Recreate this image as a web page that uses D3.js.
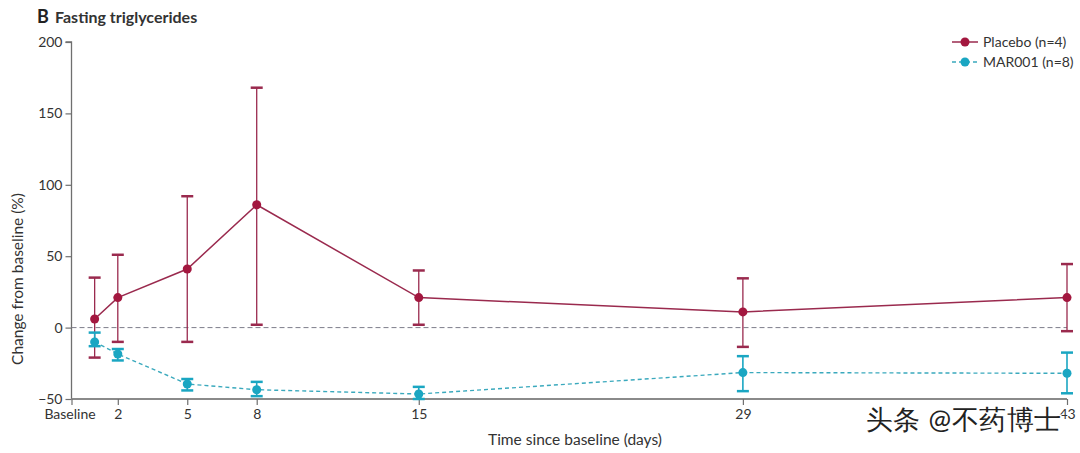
<!DOCTYPE html>
<html><head><meta charset="utf-8">
<script src="https://cdn.jsdelivr.net/npm/d3@7"></script>
<style>body{margin:0;background:#fff;} text{font-family:Lato, "Open Sans", sans-serif;}</style>
</head><body>
<svg id="c" width="1080" height="453"></svg>
<script>
const days = [1, 2, 5, 8, 15, 29, 43];
const xTickValues = [0, 2, 5, 8, 15, 29, 43];
const xTickLabels = ["Baseline", "2", "5", "8", "15", "29", "43"];
const yTickValues = [-50, 0, 50, 100, 150, 200];
const placeboMean = [6, 21, 41, 86, 21, 11, 21];
const placeboLow  = [-21, -10, -10, 2, 2, -13.5, -2.5];
const placeboHigh = [35, 51, 92, 168, 40, 34.5, 44.5];
const marMean = [-10, -18.5, -39.5, -43.5, -46.5, -31.5, -32];
const marLow  = [-13, -23, -44, -48, -50, -44.5, -46];
const marHigh = [-3.5, -15, -36, -38, -41.5, -20, -17.5];
const seriesNames = ["Placebo (n=4)", "MAR001 (n=8)"];

const svg = d3.select("#c");
const x = d3.scaleLinear().domain([0, 43]).range([71.5, 1067]);
const y = d3.scaleLinear().domain([-50, 200]).range([399, 42]);

const axisCol = "#6f6f6f";
const red = "#a3173f", redLine = "#9a2a4e";
const cyan = "#1aa6c2", cyanLine = "#3aa9bd";

// Title
svg.append("text").attr("x", 37).attr("y", 23).attr("font-size", 18).attr("font-weight", 700).attr("fill", "#222").text("B");
svg.append("text").attr("x", 55).attr("y", 23).attr("font-size", 16).attr("font-weight", 700).attr("fill", "#333").text("Fasting triglycerides");

// Y axis
const yAxis = d3.axisLeft(y).tickValues(yTickValues).tickSize(6).tickPadding(3).tickFormat(d => d < 0 ? "\u2212" + Math.abs(d) : d);
const gy = svg.append("g").attr("transform", `translate(${x(0)},0)`).call(yAxis);
gy.select(".domain").attr("stroke", axisCol).attr("stroke-width", 1.3).attr("d", `M-6,${y(200)}H0V${y(-50)}`);
gy.selectAll(".tick line").attr("stroke", axisCol).attr("stroke-width", 1.2);
gy.selectAll(".tick text").attr("font-size", 14).attr("fill", "#333").attr("font-family", "Lato, sans-serif");

// X axis
const xAxis = d3.axisBottom(x).tickValues(xTickValues).tickSize(6).tickPadding(4).tickFormat((d, i) => xTickLabels[i]);
const gx = svg.append("g").attr("transform", `translate(0,${y(-50)})`).call(xAxis);
gx.select(".domain").attr("stroke", "#8a8a8a").attr("stroke-width", 2).attr("d", `M${x(0)},0H${x(43)}`);
gx.selectAll(".tick line").attr("stroke", axisCol).attr("stroke-width", 1.2);
gx.selectAll(".tick text").attr("font-size", 14).attr("fill", "#333").attr("font-family", "Lato, sans-serif");
gx.selectAll(".tick").filter(d => d === 0).select("text").attr("dx", -2);

// Axis titles
svg.append("text").attr("transform", `translate(23,279) rotate(-90)`).attr("text-anchor", "middle")
  .attr("font-size", 15.5).attr("fill", "#333").text("Change from baseline (%)");
svg.append("text").attr("x", 575).attr("y", 445).attr("text-anchor", "middle")
  .attr("font-size", 15.5).attr("fill", "#333").text("Time since baseline (days)");

// zero line
svg.append("line").attr("x1", x(0)).attr("x2", x(43)).attr("y1", y(0)).attr("y2", y(0))
  .attr("stroke", "#7d7d8a").attr("stroke-width", 1).attr("stroke-dasharray", "5,3");

function drawSeries(mean, lo, hi, dotCol, lineCol, dashed) {
  const g = svg.append("g");
  const pts = days.map((d, i) => ({d, m: mean[i], lo: lo[i], hi: hi[i]}));
  pts.forEach(p => {
    g.append("line").attr("x1", x(p.d)).attr("x2", x(p.d)).attr("y1", y(p.lo)).attr("y2", y(p.hi))
      .attr("stroke", dashed ? dotCol : lineCol).attr("stroke-width", dashed ? 1.6 : 1.3);
    [p.lo, p.hi].forEach(v => g.append("line").attr("x1", x(p.d) - 6).attr("x2", x(p.d) + 6)
      .attr("y1", y(v)).attr("y2", y(v)).attr("stroke", dashed ? dotCol : lineCol).attr("stroke-width", 2.5));
  });
  g.append("path").datum(pts).attr("fill", "none").attr("stroke", lineCol).attr("stroke-width", dashed ? 1.4 : 1.5)
    .attr("stroke-dasharray", dashed ? "4,3" : null)
    .attr("d", d3.line().x(p => x(p.d)).y(p => y(p.m)));
  g.selectAll("circle").data(pts).join("circle").attr("cx", p => x(p.d)).attr("cy", p => y(p.m)).attr("r", 4.5).attr("fill", dotCol);
}
drawSeries(placeboMean, placeboLow, placeboHigh, red, redLine, false);
drawSeries(marMean, marLow, marHigh, cyan, cyanLine, true);

// Legend
const leg = [{c: red, l: redLine, dash: null}, {c: cyan, l: cyanLine, dash: "4,3"}];
leg.forEach((s, i) => {
  const yy = 42 + i * 20;
  svg.append("line").attr("x1", 952).attr("x2", 978).attr("y1", yy).attr("y2", yy).attr("stroke", s.l).attr("stroke-width", 1.5).attr("stroke-dasharray", s.dash);
  svg.append("circle").attr("cx", 965).attr("cy", yy).attr("r", 4.5).attr("fill", s.c);
  svg.append("text").attr("x", 983).attr("y", yy + 5).attr("font-size", 14).attr("fill", "#333").text(seriesNames[i]);
});

// watermark
svg.append("text").attr("x", 866).attr("y", 429).attr("font-size", 27).attr("textLength", 195).attr("font-family", "'Noto Sans CJK SC', sans-serif")
  .attr("fill", "#222").attr("stroke", "#fff").attr("stroke-width", 3).attr("paint-order", "stroke").text("头条 @不药博士");
</script>
</body></html>
